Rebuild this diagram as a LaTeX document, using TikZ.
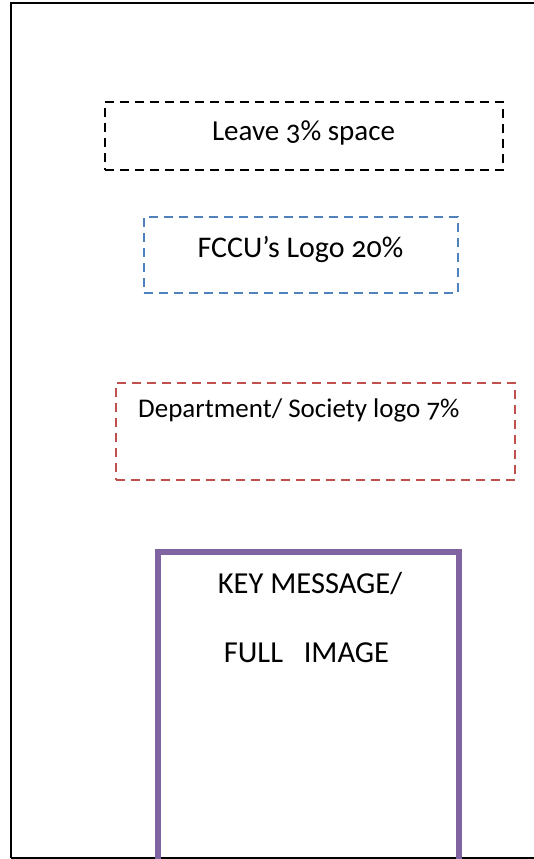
\documentclass[tikz,border=0pt]{standalone}
\usepackage{fontspec}
\setmainfont[Numbers=OldStyle]{Carlito}
\definecolor{accblue}{HTML}{4F81BD}
\definecolor{accred}{HTML}{C0504D}
\definecolor{accpurple}{HTML}{8064A2}
\begin{document}
\begin{tikzpicture}[x=1pt,y=-1pt,
  dashbox/.style={draw, line width=1.8pt, dash pattern=on 9pt off 6pt, rectangle, inner sep=0pt},
  lbl/.style={inner sep=0pt, anchor=base}]
\useasboundingbox (0,0) rectangle (534,859);
\draw[line width=1.5pt] (11,858) -- (11,3) -- (540,3);
\draw[line width=1.5pt] (11,858) -- (540,858);
% black dashed box
\node[dashbox, minimum width=398pt, minimum height=68pt] (leave) at (304,136) {};
\node[lbl, font=\fontsize{29}{34}\selectfont] (leavet) at (303.5,140) {Leave 3\% space};
% blue dashed box
\node[dashbox, draw=accblue, minimum width=314pt, minimum height=76pt] (fccu) at (301,255) {};
\node[lbl, font=\fontsize{30}{35}\selectfont] (fccut) at (300.5,257) {FCCU’s Logo 20\%};
% red dashed box
\node[dashbox, draw=accred, minimum width=399pt, minimum height=97pt] (dept) at (315.5,431.5) {};
\node[lbl, anchor=base west, font=\fontsize{27}{32}\selectfont] (deptt) at (138,417) {Department/ Society logo 7\%};
% purple key message box
\draw[accpurple, line width=6pt] (158,870) -- (158,552) -- (459,552) -- (459,870);
\node[lbl, font=\fontsize{30.5}{36}\selectfont] (key1) at (310,593) {KEY MESSAGE/};
\node[lbl, font=\fontsize{30.5}{36}\selectfont] (key2) at (306.5,662) {FULL\ \ \ IMAGE};
\end{tikzpicture}
\end{document}
